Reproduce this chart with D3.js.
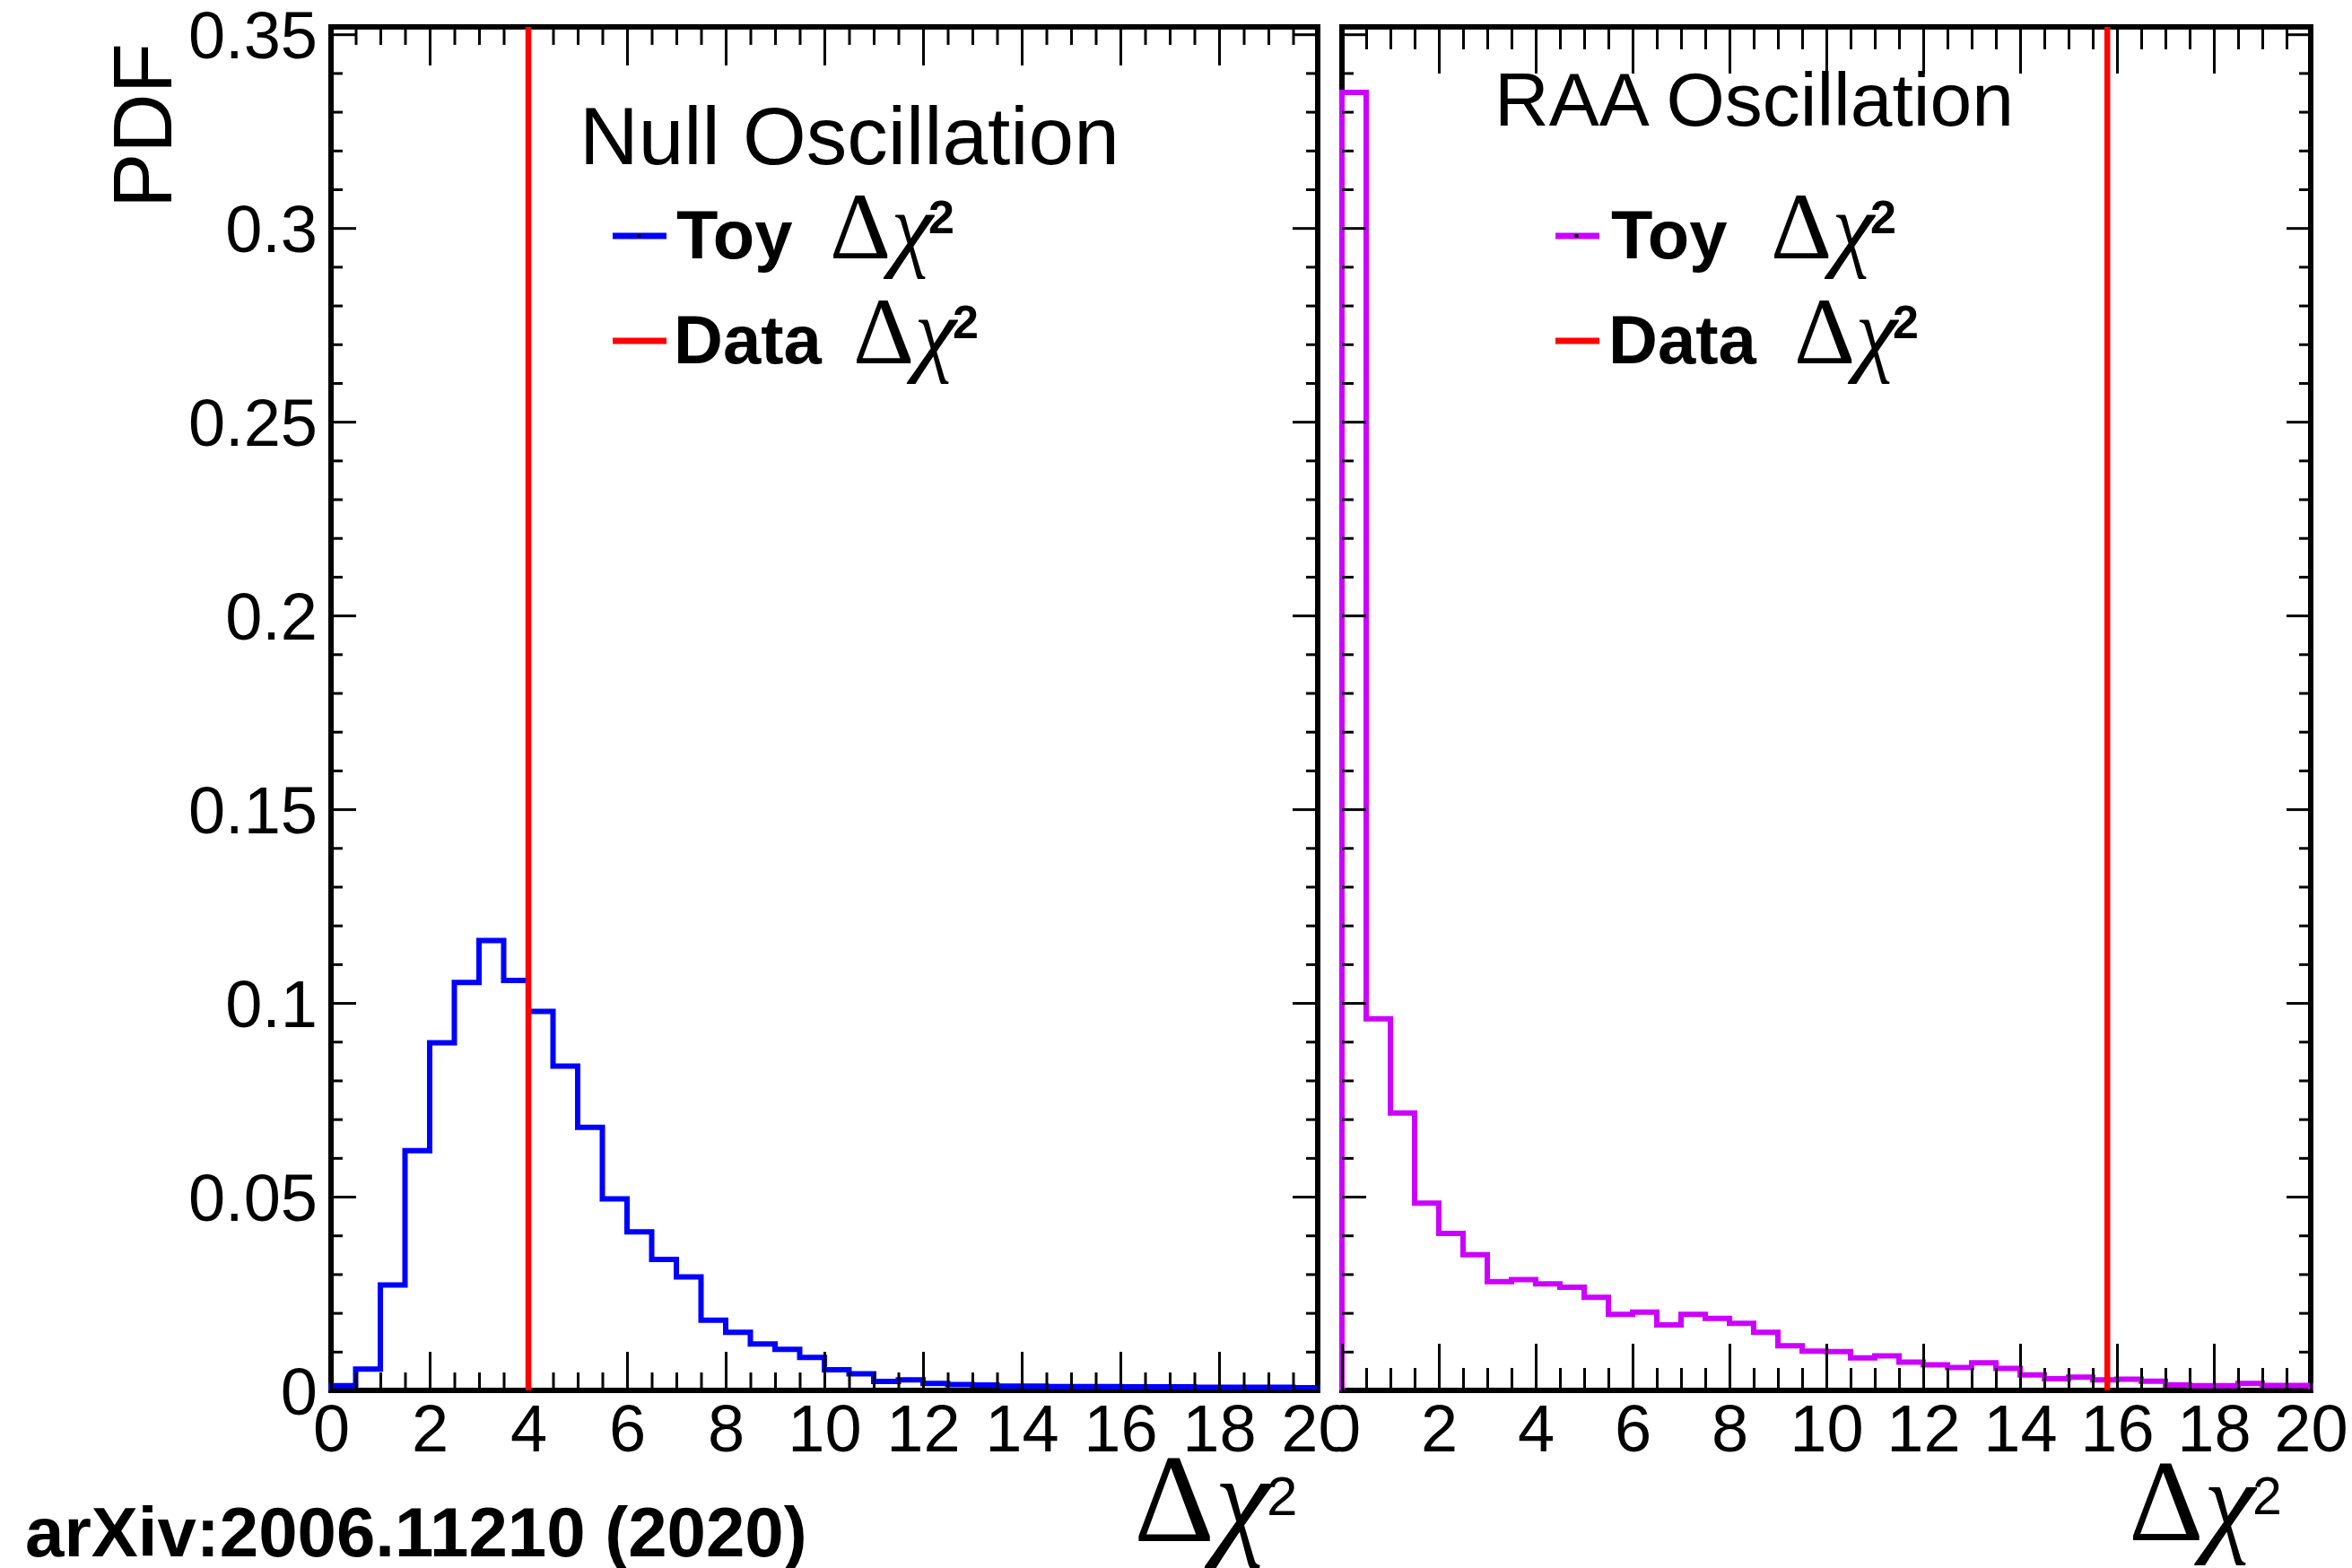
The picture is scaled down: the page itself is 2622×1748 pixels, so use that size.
<!DOCTYPE html>
<html>
<head>
<meta charset="utf-8">
<script src="https://cdn.jsdelivr.net/npm/d3@7/dist/d3.min.js"></script>
<style>
  html, body { margin: 0; padding: 0; background: #ffffff; }
  svg { display: block; }
</style>
</head>
<body>
<svg id="chart" width="2622" height="1748"></svg>
<script>
// ---------------- DATA ----------------
const binEdges = [0, 0.5, 1, 1.5, 2, 2.5, 3, 3.5, 4, 4.5, 5, 5.5, 6, 6.5, 7, 7.5, 8, 8.5, 9, 9.5,
                  10, 10.5, 11, 11.5, 12, 12.5, 13, 13.5, 14, 14.5, 15, 15.5, 16, 16.5, 17, 17.5, 18, 18.5, 19, 19.5, 20];

// Null oscillation: toy Δχ² PDF (bin contents)
const nullToy = [0.0012, 0.0055, 0.0272, 0.0619, 0.0897, 0.1053, 0.1161, 0.1058, 0.0978, 0.0837,
                 0.0679, 0.0494, 0.0409, 0.0338, 0.0293, 0.0181, 0.0150, 0.0120, 0.0106, 0.0085,
                 0.0053, 0.0043, 0.0023, 0.0027, 0.0018, 0.0015, 0.0014, 0.0011, 0.0011, 0.0010,
                 0.0010, 0.0010, 0.0009, 0.0009, 0.0009, 0.0008, 0.0008, 0.0008, 0.0008, 0.0007];

// RAA oscillation: toy Δχ² PDF (bin contents)
const raaToy = [0.3350, 0.0959, 0.0716, 0.0483, 0.0405, 0.0350, 0.0281, 0.0286, 0.0275, 0.0266,
                0.0240, 0.0196, 0.0202, 0.0169, 0.0196, 0.0186, 0.0173, 0.0150, 0.0115, 0.0101,
                0.0100, 0.0084, 0.0089, 0.0073, 0.0066, 0.0059, 0.0071, 0.0057, 0.0040, 0.0030,
                0.0034, 0.0027, 0.0029, 0.0024, 0.0014, 0.0012, 0.0012, 0.0018, 0.0013, 0.0013];

// Observed (data) Δχ² values
const nullData = 4.0;
const raaData = 15.8;

const xMajorTicks = [0, 2, 4, 6, 8, 10, 12, 14, 16, 18, 20];
const xMinorTicks = [0.5, 1, 1.5, 2.5, 3, 3.5, 4.5, 5, 5.5, 6.5, 7, 7.5, 8.5, 9, 9.5, 10.5, 11, 11.5,
                     12.5, 13, 13.5, 14.5, 15, 15.5, 16.5, 17, 17.5, 18.5, 19, 19.5];
const xTickLabels = ["0", "2", "4", "6", "8", "10", "12", "14", "16", "18", "20"];
const yMajorTicks = [0, 0.05, 0.1, 0.15, 0.2, 0.25, 0.3, 0.35];
const yTickLabels = ["0", "0.05", "0.1", "0.15", "0.2", "0.25", "0.3", "0.35"];
const yMinorTicks = [0.01, 0.02, 0.03, 0.04, 0.06, 0.07, 0.08, 0.09, 0.11, 0.12, 0.13, 0.14,
                     0.16, 0.17, 0.18, 0.19, 0.21, 0.22, 0.23, 0.24, 0.26, 0.27, 0.28, 0.29,
                     0.31, 0.32, 0.33, 0.34];
const xDomain = [0, 20];
const yDomain = [0, 0.3519];

const panelTitles = ["Null Oscillation", "RAA Oscillation"];
const legendLabels = ["Toy", "Data"];
const yAxisTitle = "PDF";
const citation = "arXiv:2006.11210 (2020)";

// ---------------- DRAWING ----------------
const SANS = "'Liberation Sans', Arial, Helvetica, sans-serif";
const SERIF = "'Liberation Serif', 'Times New Roman', Times, serif";
const svg = d3.select("#chart");
svg.append("rect").attr("width", 2622).attr("height", 1748).attr("fill", "#ffffff");

const defs = svg.append("defs");
defs.append("clipPath").attr("id", "rightPad")
  .append("rect").attr("x", 1493).attr("y", 0).attr("width", 1129).attr("height", 1748);

function deltaChi(sel) {
  sel.append("tspan").text("\u0394");
  sel.append("tspan").style("font-style", "italic").text("\u03C7");
}

function drawPanel(cfg) {
  if (cfg.clip) {
    svg.append("rect").attr("x", 1493).attr("y", 0).attr("width", 1129).attr("height", 1748).attr("fill", "#fff");
  }
  const g = svg.append("g");
  if (cfg.clip) g.attr("clip-path", "url(#rightPad)");

  const x = d3.scaleLinear().domain(xDomain).range([cfg.x0, cfg.x1]);
  const y = d3.scaleLinear().domain(yDomain).range([1550, 30]);

  // frame
  g.append("rect")
    .attr("x", x(xDomain[0])).attr("y", y(yDomain[1]))
    .attr("width", x(xDomain[1]) - x(xDomain[0]))
    .attr("height", y(yDomain[0]) - y(yDomain[1]))
    .attr("fill", "none").attr("stroke", "#000").attr("stroke-width", 6);

  // histogram outline
  const pts = [[binEdges[0], 0]];
  cfg.values.forEach((v, i) => pts.push([binEdges[i], v]));
  pts.push([binEdges[binEdges.length - 1], cfg.values[cfg.values.length - 1]]);
  pts.push([binEdges[binEdges.length - 1], 0]);
  const line = d3.line().x(d => x(d[0])).y(d => y(d[1])).curve(d3.curveStepAfter);
  g.append("path").attr("d", line(pts))
    .attr("fill", "none").attr("stroke", cfg.color).attr("stroke-width", 6)
    .attr("stroke-linejoin", "miter").attr("stroke-linecap", "butt");

  const styleAxis = sel => {
    sel.select(".domain").remove();
    sel.selectAll(".tick line").attr("stroke", "#000").attr("stroke-width", 3);
    sel.selectAll("text").attr("fill", "#000")
      .style("font-family", SANS).style("font-size", "74px");
  };

  // bottom axis
  g.append("g").attr("transform", `translate(0,${y(0)})`)
    .call(d3.axisBottom(x).tickValues(xMajorTicks).tickSizeInner(-cfg.xMaj).tickSizeOuter(0)
      .tickPadding(15).tickFormat((d, i) => xTickLabels[i]))
    .call(styleAxis);
  g.append("g").attr("transform", `translate(0,${y(0)})`)
    .call(d3.axisBottom(x).tickValues(xMinorTicks).tickSizeInner(-cfg.xMin).tickSizeOuter(0).tickFormat(""))
    .call(styleAxis);
  // top axis
  g.append("g").attr("transform", `translate(0,${y(yDomain[1])})`)
    .call(d3.axisTop(x).tickValues(xMajorTicks).tickSizeInner(-cfg.xMaj).tickSizeOuter(0).tickFormat(""))
    .call(styleAxis);
  g.append("g").attr("transform", `translate(0,${y(yDomain[1])})`)
    .call(d3.axisTop(x).tickValues(xMinorTicks).tickSizeInner(-cfg.xMin).tickSizeOuter(0).tickFormat(""))
    .call(styleAxis);
  // left axis
  const yl = g.append("g").attr("transform", `translate(${x(xDomain[0])},0)`)
    .call(d3.axisLeft(y).tickValues(yMajorTicks).tickSizeInner(-cfg.yMaj).tickSizeOuter(0)
      .tickPadding(15).tickFormat((d, i) => cfg.yLabels ? yTickLabels[i] : ""))
    .call(styleAxis);
  yl.selectAll("text").attr("dy", "0.36em");
  g.append("g").attr("transform", `translate(${x(xDomain[0])},0)`)
    .call(d3.axisLeft(y).tickValues(yMinorTicks).tickSizeInner(-cfg.yMin).tickSizeOuter(0).tickFormat(""))
    .call(styleAxis);
  // right axis
  g.append("g").attr("transform", `translate(${x(xDomain[1])},0)`)
    .call(d3.axisRight(y).tickValues(yMajorTicks).tickSizeInner(-cfg.yMaj).tickSizeOuter(0).tickFormat(""))
    .call(styleAxis);
  g.append("g").attr("transform", `translate(${x(xDomain[1])},0)`)
    .call(d3.axisRight(y).tickValues(yMinorTicks).tickSizeInner(-cfg.yMin).tickSizeOuter(0).tickFormat(""))
    .call(styleAxis);

  // data line
  g.append("line")
    .attr("x1", x(cfg.data)).attr("x2", x(cfg.data))
    .attr("y1", y(0)).attr("y2", y(yDomain[1]))
    .attr("stroke", "#ff0000").attr("stroke-width", 6.5);

  // panel title
  g.append("text").attr("x", cfg.title.x).attr("y", cfg.title.y)
    .style("font-family", SANS).style("font-size", cfg.title.size + "px").attr("fill", "#000")
    .text(cfg.title.text);

  // legend
  const legColors = [cfg.color, "#ff0000"];
  cfg.legend.forEach((L, i) => {
    g.append("line").attr("x1", L.lx0).attr("x2", L.lx1).attr("y1", L.ly).attr("y2", L.ly)
      .attr("stroke", legColors[i]).attr("stroke-width", 7);
    if (i === 0) {
      g.append("rect").attr("x", (L.lx0 + L.lx1) / 2 - 3).attr("y", L.ly - 2).attr("width", 4).attr("height", 4).attr("fill", "#000");
    }
    g.append("text").attr("x", L.tx).attr("y", L.base)
      .style("font-family", SANS).style("font-size", "76px").style("font-weight", "bold")
      .attr("fill", "#000").text(legendLabels[i]);
    g.append("text").attr("x", L.dx).attr("y", L.base)
      .style("font-family", SERIF).style("font-size", "106px").attr("fill", "#000")
      .call(deltaChi);
    g.append("text").attr("x", L.sx).attr("y", L.base - 28)
      .style("font-family", SANS).style("font-size", "52px").style("font-weight", "bold")
      .attr("fill", "#000").text("2");
  });

  // x-axis title
  g.append("text").attr("x", cfg.xt.x).attr("y", cfg.xt.base)
    .style("font-family", SERIF).style("font-size", cfg.xt.size + "px").attr("fill", "#000")
    .call(deltaChi);
  g.append("text").attr("x", cfg.xt.sx).attr("y", cfg.xt.base - 29)
    .style("font-family", SANS).style("font-size", cfg.xt.ssize + "px").attr("fill", "#000")
    .text("2");
}

drawPanel({
  x0: 369, x1: 1469, values: nullToy, color: "#0000ff", data: nullData,
  xMaj: 43, xMin: 20, yMaj: 28, yMin: 13, yLabels: true, clip: false,
  title: { text: panelTitles[0], x: 646, y: 183, size: 91 },
  legend: [
    { lx0: 683, lx1: 743, ly: 263, tx: 754, dx: 925, sx: 1035, base: 288 },
    { lx0: 683, lx1: 743, ly: 380, tx: 751, dx: 951, sx: 1062, base: 405 }
  ],
  xt: { x: 1264, sx: 1412, base: 1718, size: 140, ssize: 62 }
});

drawPanel({
  x0: 1496, x1: 2576, values: raaToy, color: "#cc00ff", data: raaData,
  xMaj: 52, xMin: 25, yMaj: 27, yMin: 13, yLabels: false, clip: true,
  title: { text: panelTitles[1], x: 1666, y: 140, size: 84 },
  legend: [
    { lx0: 1734, lx1: 1783, ly: 263, tx: 1796, dx: 1974, sx: 2085, base: 288 },
    { lx0: 1734, lx1: 1783, ly: 380, tx: 1793, dx: 2000, sx: 2110, base: 405 }
  ],
  xt: { x: 2373, sx: 2511, base: 1717, size: 130, ssize: 59 }
});

// y-axis title
svg.append("text")
  .attr("transform", "translate(191,48) rotate(-90)")
  .attr("text-anchor", "end")
  .style("font-family", SANS).style("font-size", "92px").attr("fill", "#000")
  .text(yAxisTitle);

// citation
svg.append("text").attr("x", 28).attr("y", 1735)
  .style("font-family", SANS).style("font-size", "78px").style("font-weight", "bold")
  .attr("fill", "#000").text(citation);
</script>
</body>
</html>
